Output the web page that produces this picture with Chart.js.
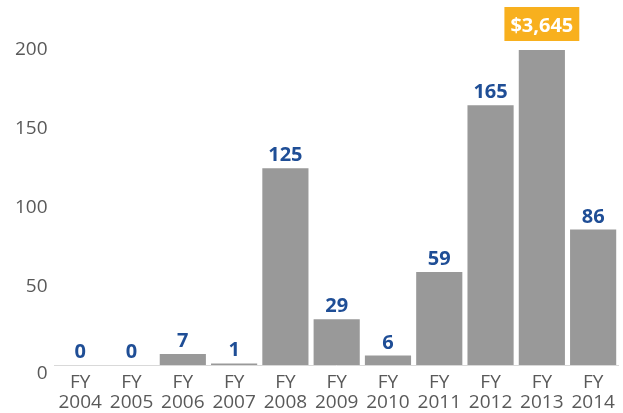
<!DOCTYPE html>
<html>
<head>
<meta charset="utf-8">
<script src="https://cdn.jsdelivr.net/npm/chart.js@4"></script>
<style>
  html, body { margin: 0; padding: 0; background: #fff; }
  #wrap { width: 623px; height: 413px; }
</style>
</head>
<body>
<div id="wrap"><canvas id="myBarChart"></canvas></div>
<script>
var years = ["2004", "2005", "2006", "2007", "2008", "2009", "2010", "2011", "2012", "2013", "2014"];
var values = [0, 0, 7, 1, 125, 29, 6, 59, 165, 3645, 86];
var valueLabels = ["0", "0", "7", "1", "125", "29", "6", "59", "165", "$3,645", "86"];
var yTicks = [0, 50, 100, 150, 200];

var axisMax = 200;
var barColor = "rgb(153, 153, 153)";
var labelColor = "rgb(31, 78, 150)";
var highlightColor = "rgb(248, 176, 30)";
var tickColor = "rgb(89, 89, 89)";

// the 2013 bar is cut off at the top of the axis
var shown = values.map(function (v) { return Math.min(v, axisMax); });

var labelPlugin = {
  id: "valueLabels",
  afterDatasetsDraw: function (chart) {
    var ctx = chart.ctx;
    var meta = chart.getDatasetMeta(0);
    ctx.save();
    ctx.font = "bold 20px 'Open Sans'";
    ctx.textAlign = "center";
    ctx.textBaseline = "alphabetic";
    meta.data.forEach(function (bar, i) {
      var txt = valueLabels[i];
      if (values[i] > axisMax) {
        var w = ctx.measureText(txt).width + 12;
        ctx.fillStyle = highlightColor;
        ctx.fillRect(bar.x - w / 2, 7, w, 34);
        ctx.fillStyle = "#fff";
        ctx.fillText(txt, bar.x, 32);
      } else {
        ctx.fillStyle = labelColor;
        ctx.fillText(txt, bar.x, bar.y - 7);
      }
    });
    // zero label sits a little below the axis line in the original
    var ys = chart.scales.y;
    ctx.font = "19px 'Open Sans'";
    ctx.fillStyle = tickColor;
    ctx.textAlign = "right";
    ctx.textBaseline = "middle";
    ctx.fillText("0", ys.right - 7, ys.getPixelForValue(0) + 9);
    ctx.restore();
  }
};

var barChart = new Chart(document.getElementById("myBarChart"), {
  type: "bar",
  data: {
    labels: years.map(function (y) { return ["FY", y]; }),
    datasets: [{
      data: shown,
      backgroundColor: barColor,
      barPercentage: 0.9,
      categoryPercentage: 1.0
    }]
  },
  options: {
    responsive: true,
    maintainAspectRatio: false,
    animation: false,
    layout: { padding: { top: 50, right: 3, left: 8, bottom: 0 } },
    plugins: { legend: { display: false }, tooltip: { enabled: false } },
    scales: {
      x: {
        afterFit: function (axis) { axis.height = 48; },
        grid: { display: false, drawTicks: false, tickLength: 0 },
        border: { color: "rgb(217, 217, 217)", width: 1 },
        ticks: { color: tickColor, font: { family: "Open Sans", size: 19, lineHeight: 1.05 }, padding: 8, maxRotation: 0 }
      },
      y: {
        min: 0,
        max: axisMax,
        afterBuildTicks: function (axis) {
          axis.ticks = yTicks.map(function (v) { return { value: v }; });
        },
        grid: { display: false, drawTicks: false, tickLength: 0 },
        border: { display: false },
        ticks: {
          color: tickColor,
          font: { family: "Open Sans", size: 19 },
          padding: 7,
          callback: function (v) { return v === 0 ? "" : v; }
        }
      }
    }
  },
  plugins: [labelPlugin]
});
</script>
</body>
</html>
